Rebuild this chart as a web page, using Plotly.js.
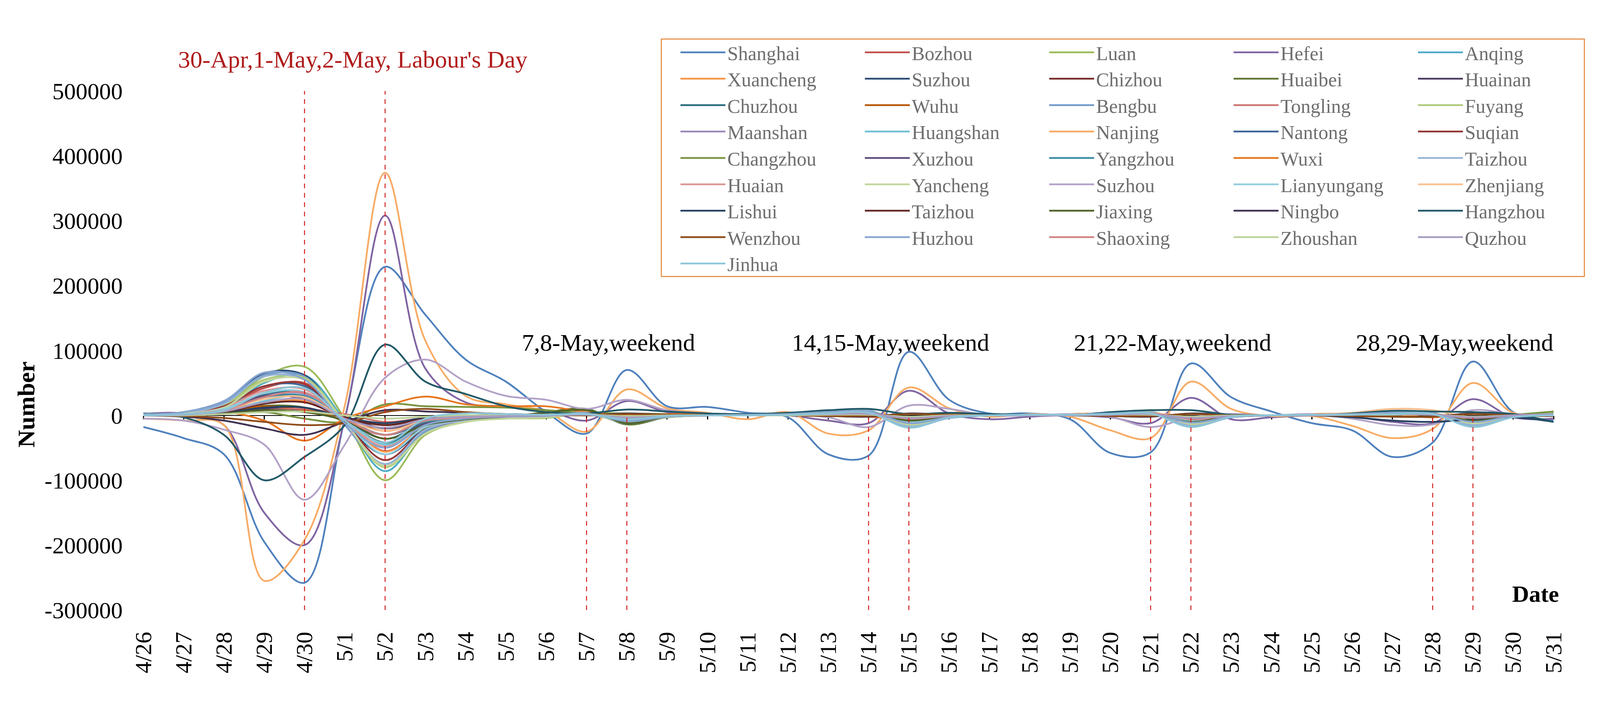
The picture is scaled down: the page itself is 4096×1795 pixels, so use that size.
<!DOCTYPE html>
<html><head><meta charset="utf-8">
<script src="https://cdn.plot.ly/plotly-3.0.1.min.js"></script>
<style>html,body{margin:0;padding:0;background:#fff;overflow:hidden}#chart{width:4096px;height:1795px}</style>
</head><body><div id="chart"></div>
<script>
const dates = ['4/26','4/27','4/28','4/29','4/30','5/1','5/2','5/3','5/4','5/5','5/6','5/7','5/8','5/9','5/10','5/11','5/12','5/13','5/14','5/15','5/16','5/17','5/18','5/19','5/20','5/21','5/22','5/23','5/24','5/25','5/26','5/27','5/28','5/29','5/30','5/31'];

const shanghai = [-18000,-35000,-60000,-195000,-258000,-5000,229000,155000,86000,52000,5000,-28000,70000,14000,13000,4000,-3000,-60000,-62000,98000,24000,3000,3000,-6000,-58000,-57000,80000,28000,6000,-12000,-23000,-64000,-42000,83000,5000,-8000];
const bozhou = [0,2000,12000,42000,50000,-5000,-55000,-18000,-6000,-3000,-2000,3000,-8000,-2000,0,1000,2000,4000,5000,-10000,-3000,0,1000,1000,3000,4000,-9000,-2000,0,1000,2000,4000,3000,-8000,-1000,2000];
const luan = [0,3000,15000,60000,75000,-5000,-100000,-30000,-10000,-5000,-4000,3000,-10000,-2000,0,1000,2000,5000,6000,-12000,-3000,0,1000,0,4000,6000,-12000,-2000,0,1000,2000,5000,3000,-10000,0,4000];
const hefei = [2000,3000,-15000,-150000,-200000,-5000,308000,72000,20000,14000,8000,-8000,22000,5000,2000,1000,0,-8000,-12000,38000,3000,-6000,-2000,0,-3000,-12000,27000,-6000,-3000,0,-2000,-10000,-12000,25000,-3000,-5000];
const anqing = [0,2000,10000,50000,62000,-8000,-86000,-25000,-8000,-4000,-2000,4000,-12000,-3000,0,1000,3000,6000,8000,-16000,-4000,0,1000,1000,4000,6000,-15000,-3000,0,1000,3000,5000,4000,-14000,-2000,2000];
const xuancheng = [0,2000,8000,20000,22000,-8000,-56000,-18000,-6000,-2000,-1000,2000,-5000,-1000,0,0,1000,3000,4000,-6000,-2000,0,0,1000,2000,3000,-6000,-1000,0,0,1000,3000,2000,-5000,-1000,1000];
const suzhouAH = [2000,5000,22000,65000,62000,-12000,-60000,-22000,-8000,-4000,-2000,4000,-10000,-2000,0,1000,3000,6000,7000,-14000,-3000,0,1000,1000,3000,5000,-12000,-2000,0,1000,2000,4000,3000,-11000,-2000,3000];
const chizhou = [0,1000,5000,12000,12000,-3000,-15000,-5000,-2000,-1000,0,1000,-3000,-1000,0,0,1000,2000,2000,-4000,-1000,0,0,0,1000,2000,-3000,-1000,0,0,1000,2000,1000,-3000,0,1000];
const huaibei = [0,2000,6000,15000,12000,-10000,-42000,-20000,-8000,-3000,5000,10000,-14000,-3000,0,1000,2000,5000,6000,-9000,-2000,0,1000,0,2000,4000,-12000,-2000,0,0,1000,3000,2000,-8000,-1000,2000];
const huainan = [0,1000,4000,10000,8000,-3000,-20000,-8000,-3000,-1000,0,2000,-4000,-1000,0,0,1000,2000,3000,-5000,-1000,0,0,0,1000,2000,-4000,-1000,0,0,1000,2000,1000,-4000,0,1000];
const chuzhou = [0,2000,10000,32000,35000,-8000,-42000,-14000,-5000,-2000,-1000,3000,-7000,-2000,0,1000,2000,4000,5000,-8000,-2000,0,1000,0,2000,4000,-8000,-2000,0,0,2000,3000,2000,-7000,-1000,2000];
const wuhu = [0,1000,5000,14000,8000,-4000,-24000,-8000,-3000,-1000,0,2000,-4000,-1000,0,0,1000,2000,3000,-5000,-1000,0,0,0,1000,2000,-5000,-1000,0,0,1000,2000,1000,-4000,0,1000];
const bengbu = [1000,4000,20000,62000,60000,-15000,-75000,-25000,-8000,-3000,-2000,4000,-12000,-3000,0,1000,3000,6000,8000,-18000,-4000,0,1000,1000,4000,6000,-17000,-3000,0,1000,3000,5000,4000,-16000,-2000,2000];
const tongling = [0,1000,3000,8000,10000,2000,-10000,-4000,-2000,-1000,0,1000,-2000,0,0,0,1000,1000,2000,-3000,-1000,0,0,0,1000,1000,-2000,0,0,0,1000,1000,1000,-2000,0,1000];
const fuyang = [1000,3000,15000,55000,58000,-10000,-80000,-28000,-10000,-4000,-3000,3000,-11000,-3000,0,1000,2000,5000,7000,-15000,-3000,0,1000,1000,3000,5000,-14000,-2000,0,1000,2000,5000,3000,-13000,-1000,3000];
const maanshan = [0,2000,10000,30000,33000,-8000,-30000,-10000,-4000,-2000,-1000,2000,-5000,-1000,0,0,1000,3000,4000,-6000,-1000,0,0,0,2000,3000,-6000,-1000,0,0,1000,2000,2000,-5000,-1000,1000];
const huangshan = [0,1000,5000,22000,30000,-5000,-45000,-14000,-5000,-2000,-1000,2000,-6000,-1000,0,0,1000,3000,4000,-8000,-2000,0,0,0,2000,3000,-7000,-1000,0,0,1000,2000,2000,-6000,-1000,1000];
const nanjing = [-5000,-8000,-15000,-255000,-192000,15000,374000,115000,30000,17000,6000,-25000,40000,11000,4000,-6000,5000,-28000,-23000,43000,11000,-2000,2000,-2000,-23000,-35000,52000,10000,-1000,-1000,-16000,-35000,-21000,50000,4000,1000];
const nantong = [1000,3000,14000,45000,45000,-5000,-36000,-12000,-5000,-2000,-1000,3000,-6000,-1000,0,1000,2000,4000,5000,-8000,-2000,0,1000,0,2000,3000,-7000,-1000,0,0,1000,3000,2000,-6000,-1000,2000];
const suqian = [1000,3000,14000,45000,48000,-10000,-69000,-22000,-8000,-3000,-2000,3000,-9000,-2000,0,1000,2000,4000,5000,-11000,-3000,0,1000,0,2000,4000,-10000,-2000,0,1000,2000,4000,3000,-9000,-1000,2000];
const changzhou = [0,2000,3000,5000,-5000,-10000,17000,14000,13000,12000,8000,4000,3000,2000,1000,0,1000,2000,1000,-3000,0,0,1000,1000,2000,2000,-2000,0,0,1000,2000,3000,2000,-3000,1000,6000];
const xuzhou = [1000,3000,10000,30000,25000,-5000,-30000,-12000,-5000,-2000,-1000,2000,-5000,-1000,0,0,1000,3000,4000,-6000,-1000,0,0,0,1000,3000,-6000,-1000,0,0,1000,2000,2000,-5000,0,1000];
const yangzhou = [0,2000,8000,28000,30000,-5000,-30000,-10000,-4000,-2000,-1000,2000,-5000,-1000,0,0,1000,3000,4000,-6000,-1000,0,0,0,1000,3000,-5000,-1000,0,0,1000,2000,2000,-5000,0,1000];
const wuxi = [0,2000,5000,-8000,-39000,-5000,14000,29000,17000,14000,14000,5000,0,2000,1000,0,2000,3000,-2000,-5000,2000,1000,0,2000,3000,2000,-5000,0,0,2000,3000,2000,-3000,4000,0,0];
const taizhouJS = [1000,3000,18000,60000,55000,-12000,-75000,-22000,-8000,-3000,-2000,4000,-12000,-3000,0,1000,3000,6000,7000,-17000,-4000,0,1000,1000,4000,6000,-16000,-3000,0,1000,3000,5000,4000,-15000,-2000,2000];
const huaian = [0,2000,12000,38000,40000,-8000,-48000,-15000,-5000,-2000,-1000,3000,-7000,-2000,0,1000,2000,4000,5000,-9000,-2000,0,1000,0,2000,4000,-8000,-2000,0,0,2000,3000,2000,-7000,-1000,2000];
const yancheng = [1000,3000,12000,52000,55000,-10000,-78000,-28000,-10000,-5000,-3000,3000,-11000,-3000,0,1000,2000,5000,6000,-14000,-3000,0,1000,1000,3000,5000,-13000,-2000,0,1000,2000,4000,3000,-12000,-1000,2000];
const suzhouJS = [-5000,-8000,-22000,-45000,-130000,-45000,58000,86000,52000,30000,24000,10000,24000,8000,3000,2000,1000,-3000,-18000,15000,10000,0,0,2000,-2000,-18000,-3000,2000,0,2000,-5000,-15000,-14000,8000,2000,0];
const lianyungang = [0,2000,10000,34000,36000,-10000,-60000,-18000,-6000,-2000,-1000,3000,-8000,-2000,0,1000,2000,4000,5000,-10000,-2000,0,1000,0,2000,4000,-9000,-2000,0,0,2000,3000,2000,-8000,-1000,2000];
const zhenjiang = [0,2000,8000,25000,28000,-5000,-24000,-8000,-3000,-1000,0,2000,-4000,-1000,0,0,1000,3000,3000,-5000,-1000,0,0,1000,3000,4000,-3000,0,0,1000,4000,10000,8000,-3000,0,1000];
const lishui = [0,1000,4000,12000,12000,-3000,-12000,-4000,-2000,-1000,0,1000,-3000,-1000,0,0,1000,2000,2000,-3000,-1000,0,0,0,1000,2000,-3000,-1000,0,0,-3000,-8000,-10000,-6000,-3000,-10000];
const taizhouZJ = [0,1000,5000,18000,20000,-3000,-15000,-5000,-2000,-1000,0,1000,-3000,-1000,0,0,1000,2000,2000,-4000,-1000,0,0,0,1000,2000,-3000,-1000,0,0,1000,2000,1000,-3000,0,1000];
const jiaxing = [0,1000,3000,8000,5000,-8000,-36000,-15000,-6000,-2000,4000,8000,-12000,-2000,0,0,1000,3000,4000,-8000,-1000,0,0,0,2000,3000,-10000,-1000,0,0,1000,2000,2000,-8000,-1000,1000];
const ningbo = [0,-2000,-8000,-20000,-30000,-10000,8000,6000,4000,2000,1000,0,3000,1000,0,0,0,-1000,-2000,3000,1000,0,0,0,-1000,-2000,3000,1000,0,0,-1000,-2000,-2000,3000,0,-1000];
const hangzhou = [3000,-3000,-30000,-100000,-64000,-15000,109000,52000,33000,14000,5000,3000,9000,6000,3000,2000,4000,8000,10000,2000,4000,2000,1000,0,5000,8000,8000,1000,0,0,3000,7000,6000,5000,2000,-10000];
const wenzhou = [0,-1000,-4000,-10000,-15000,-12000,5000,10000,5000,2000,1000,0,2000,1000,0,0,0,-1000,-1000,2000,1000,0,0,0,-1000,-1000,2000,0,0,0,-1000,-2000,-2000,2000,0,-1000];
const huzhou = [2000,5000,22000,66000,55000,-12000,-50000,-15000,-5000,-2000,-1000,3000,-9000,-2000,0,1000,2000,5000,6000,-12000,-3000,0,1000,1000,3000,4000,-11000,-2000,0,1000,2000,4000,3000,-10000,-1000,2000];
const shaoxing = [0,2000,8000,28000,35000,-5000,-30000,-8000,-3000,-1000,0,2000,-4000,-1000,0,0,1000,3000,3000,-5000,-1000,0,0,0,1000,3000,-5000,-1000,0,0,1000,2000,2000,-4000,0,1000];
const zhoushan = [0,0,2000,5000,6000,0,-5000,-2000,0,0,0,1000,-1000,0,0,0,0,1000,1000,-2000,0,0,0,0,1000,1000,-2000,0,0,0,1000,1000,1000,-2000,0,0];
const quzhou = [0,1000,6000,20000,25000,-5000,-19000,-6000,-2000,-1000,0,1000,-3000,-1000,0,0,1000,2000,2000,-4000,-1000,0,0,0,1000,2000,-4000,-1000,0,0,1000,2000,1000,-3000,0,1000];
const jinhua = [0,2000,8000,35000,42000,-8000,-42000,-5000,3000,2000,1000,2000,-6000,-1000,0,0,1000,3000,4000,-19000,-3000,0,1000,1000,2000,3000,-18000,-2000,0,1000,1000,2000,2000,-18000,-3000,0];

const seriesNames = ['Shanghai','Bozhou','Luan','Hefei','Anqing','Xuancheng','Suzhou','Chizhou','Huaibei','Huainan','Chuzhou','Wuhu','Bengbu','Tongling','Fuyang','Maanshan','Huangshan','Nanjing','Nantong','Suqian','Changzhou','Xuzhou','Yangzhou','Wuxi','Taizhou','Huaian','Yancheng','Suzhou','Lianyungang','Zhenjiang','Lishui','Taizhou','Jiaxing','Ningbo','Hangzhou','Wenzhou','Huzhou','Shaoxing','Zhoushan','Quzhou','Jinhua'];
const seriesValues = [shanghai,bozhou,luan,hefei,anqing,xuancheng,suzhouAH,chizhou,huaibei,huainan,chuzhou,wuhu,bengbu,tongling,fuyang,maanshan,huangshan,nanjing,nantong,suqian,changzhou,xuzhou,yangzhou,wuxi,taizhouJS,huaian,yancheng,suzhouJS,lianyungang,zhenjiang,lishui,taizhouZJ,jiaxing,ningbo,hangzhou,wenzhou,huzhou,shaoxing,zhoushan,quzhou,jinhua];
const seriesColors = ['#4F81BD','#C0504D','#9BBB59','#8064A2','#4BACC6','#F79646','#2C4D75','#772C2A','#5F7530','#4D3B62','#276A7C','#B65708','#729ACA','#CD7371','#AFC97A','#9C88BA','#70C0D4','#F8AC66','#3C6496','#953735','#77933C','#604A7B','#378BA2','#E6761E','#95B3D7','#D99694','#C3D69B','#B3A2C7','#93CDDD','#FAC090','#254061','#632523','#4F6228','#3F3151','#215968','#8F4C1A','#86A5D1','#D08482','#BCD19A','#A89BC2','#8CC6D8'];

const yTickVals = [-300000,-200000,-100000,0,100000,200000,300000,400000,500000];
const yTickText = ['-300000','-200000','-100000','0','100000','200000','300000','400000','500000'];
const holidayDates = ['4/30','5/2'];
const weekendPairs = [['5/7','5/8'],['5/14','5/15'],['5/21','5/22'],['5/28','5/29']];
const weekendLabels = ['7,8-May,weekend','14,15-May,weekend','21,22-May,weekend','28,29-May,weekend'];
const holidayLabel = "30-Apr,1-May,2-May, Labour's Day";

// ---- layout geometry (pixels in the 4096x1795 page) ----
const W = 4096, H = 1795;
const M = {l:367, r:119, t:233, b:233};
const PW = W - M.l - M.r, PH = H - M.t - M.b;
const px2x = p => (p - M.l) / PW;
const px2y = p => (H - M.b - p) / PH;
const FONT = 'Liberation Serif, "Times New Roman", Times, serif';
const yMin = -300000, yMax = 500000;

const perRow = 5;
const traces = seriesNames.map((n, i) => {
  const row = Math.floor(i / perRow);
  return {
    type: 'scatter', mode: 'lines', name: n, x: dates, y: seriesValues[i],
    line: {color: seriesColors[i], width: 4.5, shape: 'spline', smoothing: 1},
    legend: row === 0 ? 'legend' : 'legend' + (row + 1),
    hoverinfo: 'skip'
  };
});

const layout = {
  width: W, height: H,
  margin: {l: M.l, r: M.r, t: M.t, b: M.b, autoexpand: false},
  paper_bgcolor: '#fff', plot_bgcolor: 'rgba(0,0,0,0)',
  font: {family: FONT, color: '#000'},
  hovermode: false,
  showlegend: true,
  xaxis: {
    type: 'category', categoryorder: 'array', categoryarray: dates,
    range: [0, dates.length - 1], autorange: false,
    anchor: 'free', position: (0 - yMin) / (yMax - yMin),
    showline: true, linecolor: '#000', linewidth: 2, layer: 'below traces',
    ticks: 'outside', ticklen: 9, tickwidth: 3, tickcolor: '#000',
    tickangle: -90, tickfont: {family: FONT, size: 60, color: '#000'},
    ticklabelstandoff: 520,
    showgrid: false, zeroline: false, automargin: false, fixedrange: true
  },
  yaxis: {
    range: [yMin, yMax], autorange: false,
    tickmode: 'array', tickvals: yTickVals, ticktext: yTickText,
    tickfont: {family: FONT, size: 60, color: '#000'},
    ticks: '', ticklabelstandoff: 52,
    showline: false, showgrid: false, zeroline: false, automargin: false, fixedrange: true
  },
  shapes: [],
  annotations: []
};

// legend rows (one horizontal legend per row)
const rowCount = Math.ceil(seriesNames.length / perRow);
for (let r = 0; r < rowCount; r++) {
  const key = r === 0 ? 'legend' : 'legend' + (r + 1);
  layout[key] = {
    orientation: 'h', x: px2x(1737), xanchor: 'left',
    y: px2y(134 + 67.6 * r), yanchor: 'middle',
    entrywidth: 342, entrywidthmode: 'pixels', itemwidth: 115,
    font: {family: FONT, size: 50, color: '#6E6E6E'},
    bgcolor: 'rgba(0,0,0,0)', borderwidth: 0, traceorder: 'normal', tracegroupgap: 0
  };
}
// legend frame
layout.shapes.push({type: 'rect', xref: 'paper', yref: 'paper',
  x0: px2x(1693), x1: px2x(4056), y0: px2y(708), y1: px2y(100),
  line: {color: '#E2832F', width: 2.5}, fillcolor: 'rgba(0,0,0,0)', layer: 'below'});

// dashed marker lines
const dashLine = {color: '#D42020', width: 2.5, dash: '12px,12px'};
holidayDates.forEach(d => layout.shapes.push({type: 'line', xref: 'x', yref: 'y', x0: d, x1: d, y0: yMin, y1: yMax, line: dashLine, layer: 'above'}));
weekendPairs.forEach(p => p.forEach(d => layout.shapes.push({type: 'line', xref: 'x', yref: 'y', x0: d, x1: d, y0: yMin, y1: 0, line: dashLine, layer: 'above'})));

// annotations
layout.annotations.push({text: holidayLabel, xref: 'x', yref: 'paper',
  x: (dates.indexOf(holidayDates[0]) + dates.indexOf(holidayDates[1])) / 2 + 0.2, y: px2y(152),
  xanchor: 'center', yanchor: 'middle', showarrow: false,
  font: {family: FONT, size: 62, color: '#B01C1C'}});
weekendPairs.forEach((p, i) => layout.annotations.push({text: weekendLabels[i], xref: 'x', yref: 'paper',
  x: (dates.indexOf(p[0]) + dates.indexOf(p[1])) / 2 + 0.05, y: px2y(877),
  xanchor: 'center', yanchor: 'middle', showarrow: false,
  font: {family: FONT, size: 62, color: '#000'}}));
layout.annotations.push({text: '<b>Number</b>', xref: 'paper', yref: 'paper', x: px2x(67), y: px2y(1036),
  xanchor: 'center', yanchor: 'middle', textangle: -90, showarrow: false,
  font: {family: FONT, size: 62, color: '#000'}});
layout.annotations.push({text: '<b>Date</b>', xref: 'paper', yref: 'paper', x: px2x(3931), y: px2y(1521),
  xanchor: 'center', yanchor: 'middle', showarrow: false,
  font: {family: FONT, size: 60, color: '#000'}});

Plotly.newPlot('chart', traces, layout, {staticPlot: true, displayModeBar: false});
</script>
</body></html>
